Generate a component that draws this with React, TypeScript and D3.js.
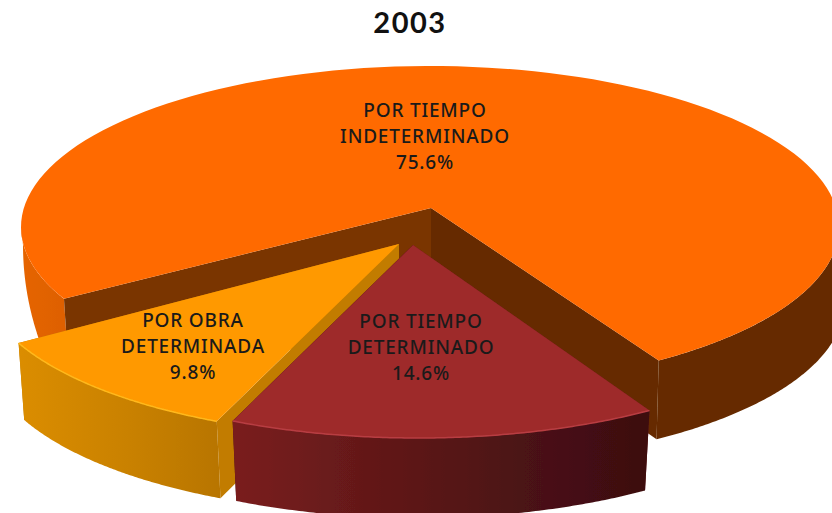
import React from "react";
import * as d3 from "d3";

const W = 832;
const H = 513;

const title = "2003";
const categories = ["POR TIEMPO INDETERMINADO", "POR TIEMPO DETERMINADO", "POR OBRA DETERMINADA"];
const values = [75.6, 14.6, 9.8];
const labelLines = [
  ["POR TIEMPO", "INDETERMINADO", "75.6%"],
  ["POR TIEMPO", "DETERMINADO", "14.6%"],
  ["POR OBRA", "DETERMINADA", "9.8%"],
];

const deg = Math.PI / 180;

// The picture is a perspective pie: d3.pie gives the true angles, this scale bends them to the drawn ones.
const pieArcs = d3.pie<number>().sort(null).startAngle(0).endAngle(2 * Math.PI)(values);
const perspective = d3
  .scaleLinear()
  .domain([0, pieArcs[0].endAngle, pieArcs[1].endAngle, 2 * Math.PI])
  .range([243.5 * deg, 506 * deg, 566 * deg, 603.5 * deg]);

type Ell = { cx: number; cy: number; rx: number; ry: number };
type Geo = {
  apex: [number, number];
  apexDepth: number;
  top: Ell;
  bottom: Ell;
  nudge: [number, number];
  bottomEndNudge: number;
};

const geometry: Geo[] = [
  {
    apex: [431, 208],
    apexDepth: 75,
    top: { cx: 430, cy: 227, rx: 409, ry: 161 },
    bottom: { cx: 435, cy: 304, rx: 409, ry: 161 },
    nudge: [0, 0],
    bottomEndNudge: 1.2,
  },
  {
    apex: [413, 245],
    apexDepth: 60,
    top: { cx: 418, cy: 277, rx: 414, ry: 161 },
    bottom: { cx: 418, cy: 357, rx: 406, ry: 161 },
    nudge: [0, 0.6],
    bottomEndNudge: 0,
  },
  {
    apex: [399, 244],
    apexDepth: 77,
    top: { cx: 395, cy: 276, rx: 414, ry: 161 },
    bottom: { cx: 397, cy: 353, rx: 410, ry: 161 },
    nudge: [-0.5, 1.9],
    bottomEndNudge: 0,
  },
];

// Far-left silhouette of the large slice's side wall, which falls almost vertically.
const sideSilhouette: Ell = { cx: 430, cy: 245, rx: 407, ry: 340 };
const rightWallFrom = 450 * deg;

const pt = (e: Ell, a: number): [number, number] => [e.cx + e.rx * Math.sin(a), e.cy - e.ry * Math.cos(a)];
const arcPts = (e: Ell, a0: number, a1: number) =>
  d3.range(0, 121).map((i) => pt(e, a0 + ((a1 - a0) * i) / 120));
const line = d3.line();
const closed = (p: [number, number][]) => (line(p) as string) + "Z";

const slices = pieArcs.map((arc, i) => {
  const g = geometry[i];
  const a0 = perspective(arc.startAngle) + g.nudge[0] * deg;
  const a1 = perspective(arc.endAngle) + g.nudge[1] * deg;
  const bEnd = a1 + g.bottomEndNudge * deg;
  const topArc = arcPts(g.top, a0, a1);
  const botArc = arcPts(g.bottom, a0, bEnd);
  const wallFrom = i === 0 ? rightWallFrom : a0;
  const apexBottom: [number, number] = [g.apex[0], g.apex[1] + g.apexDepth];
  return {
    name: categories[i],
    topPath: closed([g.apex, ...topArc]),
    rimPath: line(topArc) as string,
    wallPath: closed([...arcPts(g.top, wallFrom, a1), ...arcPts(g.bottom, bEnd, wallFrom)]),
    faceStart: closed([g.apex, topArc[0], botArc[0], apexBottom]),
    faceEnd: closed([g.apex, topArc[120], botArc[120], apexBottom]),
    sidePath:
      i === 0
        ? closed([...arcPts(g.top, a0, 270 * deg), ...arcPts(sideSilhouette, 270 * deg, 254 * deg), botArc[0]])
        : null,
  };
});

const topColors = ["#FF6A00", "#9E2A2B", "#FF9900"];
const faceStartColors = ["#7A3500", "#6B1A1C", "#C27C00"];
const faceEndColors = ["#662B00", "#3E0D10", "#C27C00"];
const wallGradients = [
  { id: "wall0", x1: 20, x2: 832, stops: [[0, "#E66500"], [0.06, "#DD6000"], [0.1, "#B04C00"], [0.5, "#662B00"], [1, "#662B00"]] },
  { id: "wall1", x1: 233, x2: 648, stops: [[0, "#7A1E1F"], [0.3, "#651919"], [0.65, "#4E1315"], [1, "#3C0C10"]] },
  { id: "wall2", x1: 19, x2: 220, stops: [[0, "#DB8D00"], [0.55, "#C98100"], [1, "#B87500"]] },
];
const rimColors = ["none", "#B83E42", "#FFB81A"];
const paintOrder = [0, 2, 1];

const labelAnchors: [number, number][] = [
  [425, 117],
  [421, 328],
  [193, 327],
];
const lineStep = 26;

export default function App() {
  return (
    <svg width={W} height={H} viewBox={`0 0 ${W} ${H}`} style={{ position: "absolute", left: 0, top: 0, display: "block", background: "#fff" }}>
      <defs>
        {wallGradients.map((g) => (
          <linearGradient key={g.id} id={g.id} gradientUnits="userSpaceOnUse" x1={g.x1} x2={g.x2} y1={0} y2={0}>
            {g.stops.map(([o, c]) => (
              <stop key={String(o)} offset={o as number} stopColor={c as string} />
            ))}
          </linearGradient>
        ))}
        <filter id="soft" x="-5%" y="-5%" width="110%" height="110%">
          <feGaussianBlur stdDeviation="0.5" />
        </filter>
      </defs>
      <g filter="url(#soft)">
        {paintOrder.map((i) => {
          const s = slices[i];
          return (
            <g key={s.name}>
              {s.sidePath && <path d={s.sidePath} fill={`url(#wall${i})`} />}
              <path d={s.faceEnd} fill={faceEndColors[i]} />
              <path d={s.faceStart} fill={faceStartColors[i]} />
              <path d={s.wallPath} fill={`url(#wall${i})`} />
              <path d={s.topPath} fill={topColors[i]} />
              <path d={s.rimPath} fill="none" stroke={rimColors[i]} strokeWidth={1.5} />
            </g>
          );
        })}
      </g>
      <text x={410} y={33} textAnchor="middle" fontFamily="Lato, sans-serif" fontWeight={700} fontSize={29} letterSpacing={1.5} fill="#111">
        {title}
      </text>
      {labelLines.map((lines, i) => (
        <g key={categories[i]}>
          {lines.map((t, j) => (
            <text
              key={t}
              x={labelAnchors[i][0]}
              y={labelAnchors[i][1] + j * lineStep}
              textAnchor="middle"
              fontFamily="'Noto Sans', sans-serif"
              fontWeight={500}
              fontSize={19}
              letterSpacing={0.8}
              fill="#1a1a1a"
            >
              {t}
            </text>
          ))}
        </g>
      ))}
    </svg>
  );
}
